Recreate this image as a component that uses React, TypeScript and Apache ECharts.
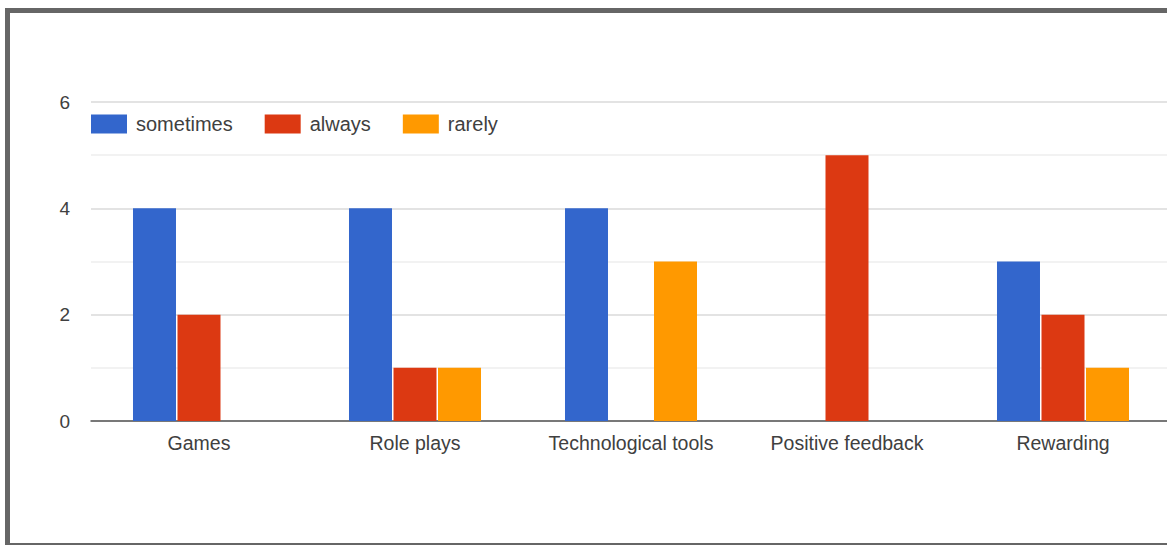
import React, { useEffect, useRef } from "react";
import * as echarts from "echarts";

// Teaching strategies and how often each one is used
const categories = ["Games", "Role plays", "Technological tools", "Positive feedback", "Rewarding"];
const sometimes = [4, 4, 4, 0, 3];
const always = [2, 1, 0, 5, 2];
const rarely = [0, 1, 3, 0, 1];
const seriesNames = ["sometimes", "always", "rarely"];
const palette = ["#3366cc", "#dc3912", "#ff9900"];
const yTicks = [0, 2, 4, 6];

const FONT = "'Liberation Sans', Arial, sans-serif";
const TEXT = "#404040";

export default function App() {
  const ref = useRef<HTMLDivElement>(null);

  useEffect(() => {
    if (!ref.current) return;
    const chart = echarts.init(ref.current, null, { renderer: "svg" });
    const values = [sometimes, always, rarely];
    chart.setOption({
      animation: false,
      backgroundColor: "transparent",
      color: palette,
      textStyle: { fontFamily: FONT },
      legend: {
        left: 91,
        top: 114,
        padding: 0,
        icon: "rect",
        itemWidth: 36,
        itemHeight: 19,
        itemGap: 32,
        textStyle: { fontSize: 20, color: TEXT, fontFamily: FONT, padding: [0, 0, 0, 4] },
        data: seriesNames,
      },
      grid: { left: 91, right: 29, top: 102, bottom: 124, containLabel: false },
      xAxis: {
        type: "category",
        data: categories,
        axisTick: { show: false },
        axisLine: { lineStyle: { color: "#555555", width: 1.5 } },
        axisLabel: { fontSize: 19.5, color: TEXT, fontFamily: FONT, margin: 12 },
      },
      yAxis: {
        type: "value",
        min: 0,
        max: 6,
        interval: 1,
        axisLine: { show: false },
        axisTick: { show: false },
        axisLabel: {
          fontSize: 19,
          color: TEXT,
          fontFamily: FONT,
          margin: 21,
          formatter: (v: number) => (yTicks.includes(v) ? String(v) : ""),
        },
        splitLine: { lineStyle: { color: ["#dadada", "#eeeeee"], width: 1.5 } },
      },
      series: seriesNames.map((name, i) => ({
        name,
        type: "bar",
        data: values[i],
        barWidth: 43,
        barGap: "3.5%",
        itemStyle: { color: palette[i] },
      })),
    });
    return () => chart.dispose();
  }, []);

  return (
    <div style={{ position: "fixed", inset: 0, overflow: "hidden", background: "#ffffff" }}>
      <div
        style={{
          position: "absolute",
          left: 5,
          top: 8,
          width: 1300,
          height: 540,
          boxSizing: "border-box",
          border: "5px solid #666666",
        }}
      />
      <div ref={ref} style={{ position: "absolute", left: 0, top: 0, width: 1200, height: 545 }} />
    </div>
  );
}
